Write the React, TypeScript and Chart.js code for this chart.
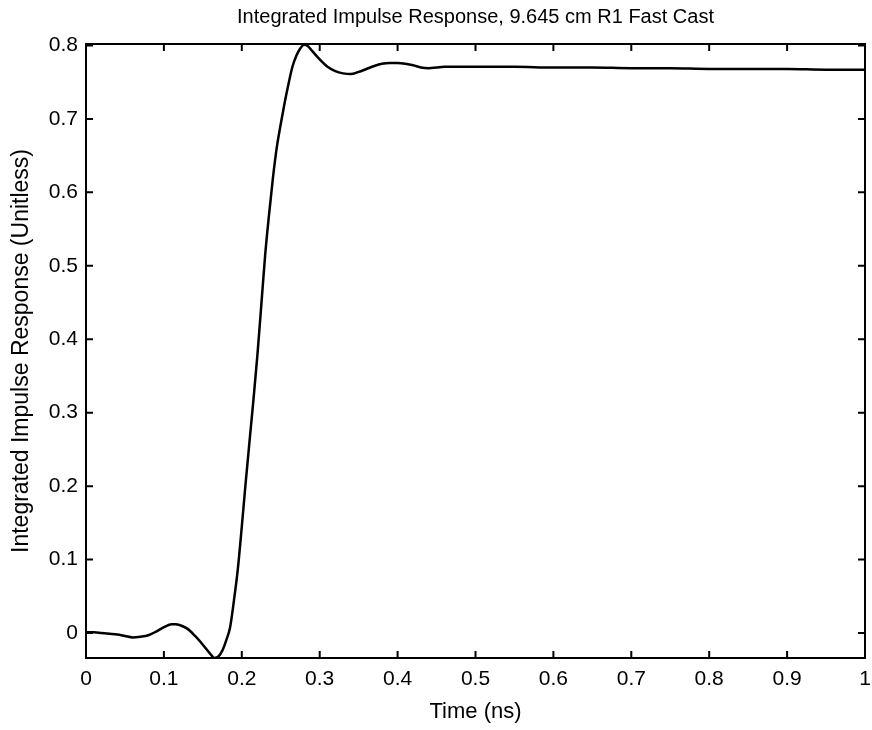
import React, { useEffect, useRef } from "react";
import { Chart, registerables } from "chart.js";

Chart.register(...registerables);

const chartTitle = "Integrated Impulse Response, 9.645 cm R1 Fast Cast";
const xAxisTitle = "Time (ns)";
const yAxisTitle = "Integrated Impulse Response (Unitless)";

const timeNs = [
  0.0, 0.01, 0.02, 0.03, 0.04, 0.05, 0.06, 0.07, 0.08, 0.09,
  0.1, 0.11, 0.115, 0.12, 0.13, 0.14, 0.15, 0.16, 0.165, 0.17,
  0.175, 0.18, 0.185, 0.19, 0.195, 0.2, 0.205, 0.21, 0.215, 0.22,
  0.225, 0.23, 0.235, 0.24, 0.245, 0.25, 0.255, 0.26, 0.265, 0.27,
  0.275, 0.28, 0.285, 0.29, 0.3, 0.31, 0.32, 0.33, 0.34, 0.35,
  0.36, 0.37, 0.38, 0.39, 0.4, 0.41, 0.42, 0.43, 0.44, 0.45,
  0.46, 0.48, 0.5, 0.55, 0.6, 0.65, 0.7, 0.75, 0.8, 0.85,
  0.9, 0.95, 1.0,
];

const impulseResponse = [
  0.001, 0.001, 0.0, -0.001, -0.002, -0.004, -0.006, -0.005, -0.003, 0.002,
  0.008, 0.012, 0.012, 0.011, 0.006, -0.004, -0.016, -0.029, -0.034, -0.032,
  -0.024, -0.01, 0.008, 0.045, 0.088, 0.145, 0.205, 0.262, 0.318, 0.378,
  0.446, 0.515, 0.57, 0.62, 0.662, 0.693, 0.722, 0.748, 0.771, 0.786,
  0.796, 0.801, 0.799, 0.793, 0.781, 0.771, 0.765, 0.762, 0.761, 0.764,
  0.768, 0.772, 0.775, 0.776, 0.776, 0.775, 0.773, 0.770, 0.769, 0.770,
  0.771, 0.771, 0.771, 0.771, 0.770, 0.770, 0.769, 0.769, 0.768, 0.768,
  0.768, 0.767, 0.767,
];

const xTickValues = [0, 0.1, 0.2, 0.3, 0.4, 0.5, 0.6, 0.7, 0.8, 0.9, 1];
const xTickLabels = ["0", "0.1", "0.2", "0.3", "0.4", "0.5", "0.6", "0.7", "0.8", "0.9", "1"];
const yTickValues = [0, 0.1, 0.2, 0.3, 0.4, 0.5, 0.6, 0.7, 0.8];
const yTickLabels = ["0", "0.1", "0.2", "0.3", "0.4", "0.5", "0.6", "0.7", "0.8"];

const xMin = 0;
const xMax = 1;
const yMin = -0.034;
const yMax = 0.802;

const FONT = "'Liberation Sans', Arial, Helvetica, sans-serif";

const framePlugin = {
  id: "matlabFrame",
  afterDatasetsDraw(chart: any) {
    const { ctx, chartArea: a, scales } = chart;
    const xs = scales.x;
    const ys = scales.y;
    const L = 7;
    ctx.save();
    ctx.strokeStyle = "#000";
    ctx.lineWidth = 2;
    ctx.strokeRect(a.left, a.top, a.right - a.left, a.bottom - a.top);
    ctx.beginPath();
    xs.ticks.forEach((t: any) => {
      const px = xs.getPixelForValue(t.value);
      ctx.moveTo(px, a.bottom);
      ctx.lineTo(px, a.bottom - L);
      ctx.moveTo(px, a.top);
      ctx.lineTo(px, a.top + L);
    });
    ys.ticks.forEach((t: any) => {
      const py = ys.getPixelForValue(t.value);
      ctx.moveTo(a.left, py);
      ctx.lineTo(a.left + L, py);
      ctx.moveTo(a.right, py);
      ctx.lineTo(a.right - L, py);
    });
    ctx.stroke();
    ctx.restore();
  },
};

export default function App() {
  const canvasRef = useRef<HTMLCanvasElement | null>(null);

  useEffect(() => {
    document.body.style.margin = "0";
    document.body.style.background = "#fff";
    const canvas = canvasRef.current;
    if (!canvas) return;
    const chart = new Chart(canvas, {
      type: "line",
      data: {
        datasets: [
          {
            data: timeNs.map((t, i) => ({ x: t, y: impulseResponse[i] })),
            borderColor: "#000",
            borderWidth: 2.5,
            pointRadius: 0,
            fill: false,
            cubicInterpolationMode: "monotone",
          },
        ],
      },
      options: {
        responsive: false,
        animation: false,
        maintainAspectRatio: false,
        layout: { padding: { left: 0, right: 7, top: 0, bottom: 0 } },
        plugins: {
          legend: { display: false },
          tooltip: { enabled: false },
          title: {
            display: true,
            fullSize: false,
            text: chartTitle,
            color: "#000",
            font: { family: FONT, size: 20, weight: "normal" },
            padding: { top: 5, bottom: 15 },
          },
        },
        scales: {
          x: {
            type: "linear",
            min: xMin,
            max: xMax,
            grid: { display: false, drawTicks: false },
            border: { display: false },
            afterBuildTicks: (scale: any) => {
              scale.ticks = xTickValues.map((v) => ({ value: v }));
            },
            afterFit: (scale: any) => {
              scale.height = 72;
              scale.paddingRight = 0;
              scale.paddingLeft = 0;
            },
            ticks: {
              color: "#000",
              padding: 9,
              maxRotation: 0,
              autoSkip: false,
              font: { family: FONT, size: 21 },
              callback: (_v: any, i: number) => xTickLabels[i],
            },
            title: {
              display: true,
              text: xAxisTitle,
              color: "#000",
              font: { family: FONT, size: 22 },
              padding: { top: 0, bottom: 5 },
            },
          },
          y: {
            type: "linear",
            min: yMin,
            max: yMax,
            grid: { display: false, drawTicks: false },
            border: { display: false },
            afterBuildTicks: (scale: any) => {
              scale.ticks = yTickValues.map((v) => ({ value: v }));
            },
            afterFit: (scale: any) => {
              scale.width = 86;
            },
            ticks: {
              color: "#000",
              padding: 8,
              autoSkip: false,
              font: { family: FONT, size: 21 },
              callback: (_v: any, i: number) => yTickLabels[i],
            },
            title: {
              display: true,
              text: yAxisTitle,
              color: "#000",
              font: { family: FONT, size: 23 },
              padding: { top: 8, bottom: 0 },
            },
          },
        },
      },
      plugins: [framePlugin],
    } as any);
    return () => chart.destroy();
  }, []);

  return (
    <div style={{ width: 872, height: 730, background: "#fff" }}>
      <canvas ref={canvasRef} width={872} height={730} style={{ display: "block" }} />
    </div>
  );
}
